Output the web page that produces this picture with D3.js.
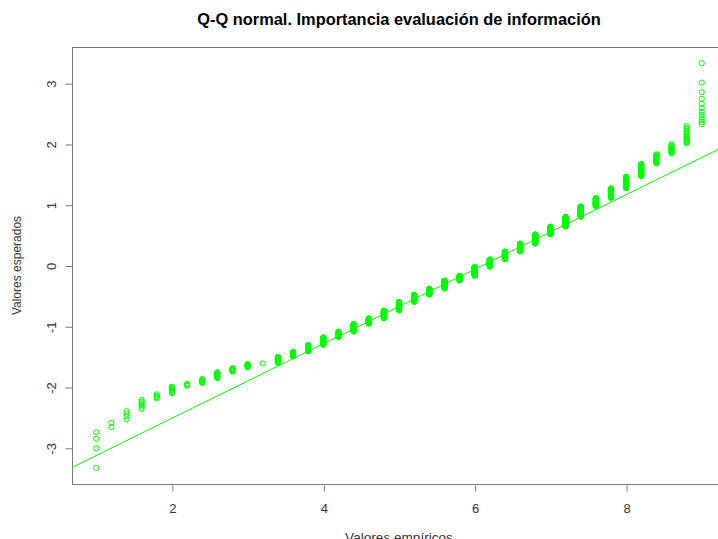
<!DOCTYPE html>
<html>
<head>
<meta charset="utf-8">
<script src="https://cdn.jsdelivr.net/npm/d3@7"></script>
<style>
  html, body { margin: 0; padding: 0; background: #fff; }
  svg { display: block; }
  text { font-family: "Liberation Sans", Arial, Helvetica, sans-serif; }
</style>
</head>
<body>
<svg id="chart" width="718" height="539"></svg>
<script>
// Empirical values (distinct scores) and how many observations share each score
const empiricalValues = [1.0, 1.2, 1.4, 1.6, 1.8, 2.0, 2.2, 2.4, 2.6, 2.8, 3.0, 3.2, 3.4, 3.6, 3.8, 4.0,
  4.2, 4.4, 4.6, 4.8, 5.0, 5.2, 5.4, 5.6, 5.8, 6.0, 6.2, 6.4, 6.6, 6.8, 7.0, 7.2, 7.4, 7.6, 7.8,
  8.0, 8.2, 8.4, 8.6, 8.8, 9.0];
const valueCounts = [4, 2, 4, 6, 4, 7, 3, 6, 10, 7, 8, 1, 15, 13, 20, 27,
  22, 35, 27, 43, 52, 47, 42, 57, 36, 68, 55, 59, 57, 63, 50, 57, 53, 37, 36,
  35, 28, 16, 12, 14, 12];
const xTickValues = [2, 4, 6, 8];
const yTickValues = [-3, -2, -1, 0, 1, 2, 3];
const titleText = "Q-Q normal. Importancia evaluación de información";
const xLabelText = "Valores empíricos";
const yLabelText = "Valores esperados";

// Normal quantile function (Acklam)
function qnorm(p) {
  const a = [-3.969683028665376e+01, 2.209460984245205e+02, -2.759285104469687e+02, 1.383577518672690e+02, -3.066479806614716e+01, 2.506628277459239e+00];
  const b = [-5.447609879822406e+01, 1.615858368580409e+02, -1.556989798598866e+02, 6.680131188771972e+01, -1.328068155288572e+01];
  const c = [-7.784894002430293e-03, -3.223964580411365e-01, -2.400758277161838e+00, -2.549671039493530e+00, 4.374664141464968e+00, 2.938163982698783e+00];
  const d = [7.784695709041462e-03, 3.224671290700398e-01, 2.445134137142996e+00, 3.754408661907416e+00];
  const plow = 0.02425, phigh = 1 - plow;
  let q, r;
  if (p < plow) {
    q = Math.sqrt(-2 * Math.log(p));
    return (((((c[0]*q+c[1])*q+c[2])*q+c[3])*q+c[4])*q+c[5]) / ((((d[0]*q+d[1])*q+d[2])*q+d[3])*q+1);
  } else if (p <= phigh) {
    q = p - 0.5; r = q*q;
    return (((((a[0]*r+a[1])*r+a[2])*r+a[3])*r+a[4])*r+a[5])*q / (((((b[0]*r+b[1])*r+b[2])*r+b[3])*r+b[4])*r+1);
  } else {
    q = Math.sqrt(-2 * Math.log(1 - p));
    return -(((((c[0]*q+c[1])*q+c[2])*q+c[3])*q+c[4])*q+c[5]) / ((((d[0]*q+d[1])*q+d[2])*q+d[3])*q+1);
  }
}

// Build sorted sample and theoretical quantiles (ppoints: (i-0.5)/n)
const sample = [];
empiricalValues.forEach((v, i) => { for (let k = 0; k < valueCounts[i]; k++) sample.push(v); });
const n = sample.length;
const points = sample.map((v, i) => ({ x: v, y: qnorm((i + 0.5) / n) }));

const svg = d3.select("#chart");
svg.append("rect").attr("width", 718).attr("height", 539).attr("fill", "#fff");

const plot = { left: 72, right: 726, top: 47, bottom: 484 };

function padded(ext) { const d = (ext[1] - ext[0]) * 0.04; return [ext[0] - d, ext[1] + d]; }
const x = d3.scaleLinear().domain(padded(d3.extent(points, p => p.x))).range([plot.left, plot.right]);
const y = d3.scaleLinear().domain(padded(d3.extent(points, p => p.y))).range([plot.bottom, plot.top]);

const axisColor = "#7a7a7a";
const textColor = "#333";

svg.append("defs").append("clipPath").attr("id", "clip")
  .append("rect").attr("x", plot.left).attr("y", plot.top)
  .attr("width", plot.right - plot.left).attr("height", plot.bottom - plot.top);

// Points
svg.append("g").attr("clip-path", "url(#clip)")
  .selectAll("circle").data(points).join("circle")
  .attr("cx", p => x(p.x)).attr("cy", p => y(p.y)).attr("r", 2.6)
  .attr("fill", "none").attr("stroke", "#00ff00").attr("stroke-width", 1);

// qqline through quartiles
const xq1 = d3.quantileSorted(sample, 0.25), xq3 = d3.quantileSorted(sample, 0.75);
const yq1 = qnorm(0.25), yq3 = qnorm(0.75);
const slope = (yq3 - yq1) / (xq3 - xq1);
const intercept = yq1 - slope * xq1;
const xd = x.domain();
svg.append("line").attr("clip-path", "url(#clip)")
  .attr("x1", x(xd[0])).attr("y1", y(intercept + slope * xd[0]))
  .attr("x2", x(xd[1])).attr("y2", y(intercept + slope * xd[1]))
  .attr("stroke", "#00ff00").attr("stroke-width", 1);

// Box
svg.append("rect").attr("x", plot.left + 0.5).attr("y", plot.top + 0.5)
  .attr("width", plot.right - plot.left).attr("height", plot.bottom - plot.top)
  .attr("fill", "none").attr("stroke", axisColor).attr("stroke-width", 1);

// X axis
const xAxis = d3.axisBottom(x).tickValues(xTickValues).tickSize(7).tickPadding(12).tickFormat(d => String(d));
const gx = svg.append("g").attr("transform", `translate(0.5,${plot.bottom + 0.5})`).call(xAxis);
gx.select(".domain").remove();
gx.selectAll("line").attr("stroke", axisColor);
gx.selectAll("text").attr("fill", textColor).attr("font-size", 13).attr("font-family", "Liberation Sans, Arial, sans-serif");

// Y axis (labels parallel to axis)
const yAxis = d3.axisLeft(y).tickValues(yTickValues).tickSize(7).tickFormat(d => String(d));
const gy = svg.append("g").attr("transform", `translate(${plot.left + 0.5},0.5)`).call(yAxis);
gy.select(".domain").remove();
gy.selectAll("line").attr("stroke", axisColor);
gy.selectAll("text")
  .attr("fill", textColor).attr("font-size", 13).attr("font-family", "Liberation Sans, Arial, sans-serif")
  .attr("x", null).attr("dy", null)
  .attr("text-anchor", "middle")
  .attr("transform", "translate(-21,0) rotate(-90)")
  .attr("dy", "0.35em");

// Title
svg.append("text").attr("x", (plot.left + plot.right) / 2).attr("y", 25)
  .attr("text-anchor", "middle").attr("font-weight", "bold").attr("font-size", 16.4)
  .attr("fill", "#000").text(titleText);

// Axis labels
svg.append("text").attr("x", (plot.left + plot.right) / 2).attr("y", 542)
  .attr("text-anchor", "middle").attr("font-size", 13.6).attr("fill", textColor).text(xLabelText);
svg.append("text").attr("transform", `translate(21,${(plot.top + plot.bottom) / 2}) rotate(-90)`)
  .attr("text-anchor", "middle").attr("font-size", 12).attr("fill", textColor).text(yLabelText);
</script>
</body>
</html>
